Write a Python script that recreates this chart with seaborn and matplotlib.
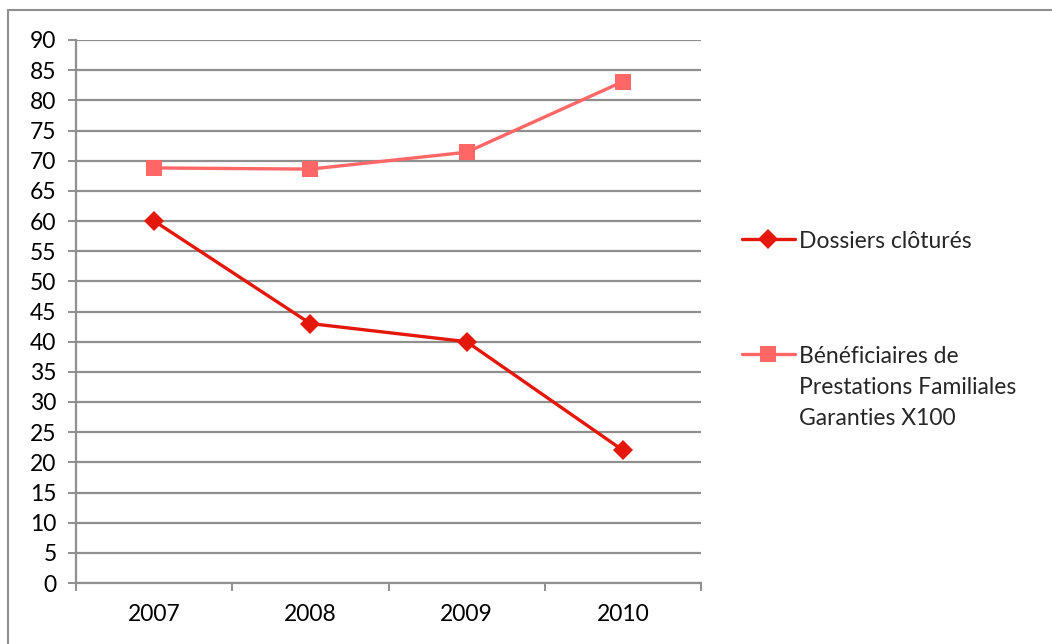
import matplotlib
matplotlib.use("Agg")
import matplotlib.pyplot as plt
import seaborn as sns
import pandas as pd
from matplotlib.lines import Line2D

years = ["2007", "2008", "2009", "2010"]
dossiers = [60, 43, 40, 22]
beneficiaires = [68.8, 68.6, 71.4, 83.1]
name_dossiers = "Dossiers clôturés"
name_benef = "Bénéficiaires de\nPrestations Familiales\nGaranties X100"
yticks = list(range(0, 95, 5))

df = pd.DataFrame({
    "x": list(range(len(years))),
    "dossiers": dossiers,
    "benef": beneficiaires,
})

sns.set_theme(style="white")
plt.rcParams["font.family"] = ["Lato", "DejaVu Sans"]

W, H = 1052, 644
fig = plt.figure(figsize=(W / 100, H / 100), dpi=100)
ax = fig.add_axes([76 / W, 1 - 583 / H, 625 / W, 543 / H])

sns.lineplot(data=df, x="x", y="dossiers", color="#e3170a", marker="D",
             markersize=10, markeredgewidth=0, linewidth=2.4, label=name_dossiers, ax=ax)
sns.lineplot(data=df, x="x", y="benef", color="#ff6666", marker="s",
             markersize=11.5, markeredgewidth=0, linewidth=2.4, label=name_benef, ax=ax)

FS = 16.5
ax.set_xlim(-0.5, 3.5)
ax.set_ylim(0, 90)
ax.set_yticks(yticks)
ax.set_yticklabels([str(t) for t in yticks], fontsize=FS, color="black")
ax.yaxis.grid(True, color="#8f8f8f", linewidth=1.6)
ax.set_axisbelow(True)
ax.set_xticks(range(len(years)))
ax.set_xticklabels(years, fontsize=FS, color="black")
ax.set_xticks([-0.5, 0.5, 1.5, 2.5, 3.5], minor=True)
ax.tick_params(axis="x", which="major", length=0, pad=15)
ax.tick_params(axis="x", which="minor", length=6, width=1.4, color="#8f8f8f", direction="out", bottom=True)
ax.tick_params(axis="y", length=6, width=1.4, color="#8f8f8f", direction="out", left=True, pad=8)
ax.set_xlabel("")
ax.set_ylabel("")
for s in ["top", "right"]:
    ax.spines[s].set_visible(False)
for s in ["left", "bottom"]:
    ax.spines[s].set_color("#8f8f8f")
    ax.spines[s].set_linewidth(1.6)

leg = ax.legend(loc="upper left", bbox_to_anchor=(742 / W, 1 - 231 / H),
                bbox_transform=fig.transFigure, frameon=False, borderpad=0,
                borderaxespad=0, fontsize=FS, handlelength=2.3, handletextpad=0.2,
                labelspacing=4.1)
for t in leg.get_texts():
    t.set_linespacing(1.6)
for col in leg._legend_handle_box.get_children():
    for hp in col.get_children():
        hp.align = "top"

fig.add_artist(Line2D([7.5 / W, 7.5 / W], [0, 1 - 10 / H], transform=fig.transFigure,
                      color="#8f8f8f", linewidth=1.5))
fig.add_artist(Line2D([7.5 / W, 1], [1 - 10 / H, 1 - 10 / H], transform=fig.transFigure,
                      color="#8f8f8f", linewidth=1.5))

fig.savefig("out.png", dpi=100)
